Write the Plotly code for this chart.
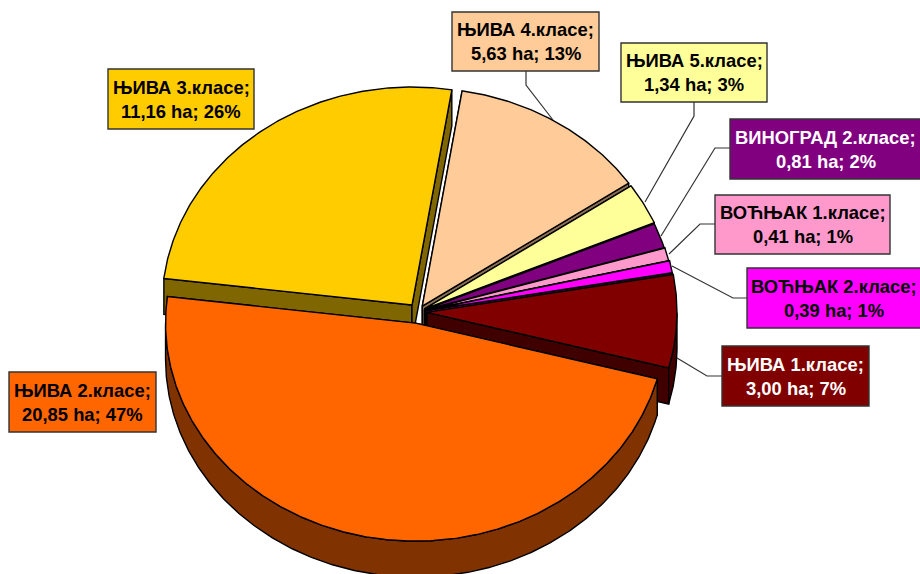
import math
import plotly.graph_objects as go

# ---- data (clockwise order, starting with ЊИВА 3) ----
categories = ["ЊИВА 3.класе", "ЊИВА 4.класе", "ЊИВА 5.класе", "ВИНОГРАД 2.класе",
              "ВОЋЊАК 1.класе", "ВОЋЊАК 2.класе", "ЊИВА 1.класе", "ЊИВА 2.класе"]
hectares = [11.16, 5.63, 1.34, 0.81, 0.41, 0.39, 3.00, 20.85]
percents = [26, 13, 3, 2, 1, 1, 7, 47]
colors = ["#FFCC00", "#FFCC99", "#FFFF99", "#800080", "#FF99CC", "#FF00FF", "#800000", "#FF6600"]
walls = ["#806600", "#8A6E55", "#80804D", "#400040", "#804D66", "#800080", "#400000", "#803300"]
text_colors = ["#000000", "#000000", "#000000", "#FFFFFF", "#000000", "#000000", "#FFFFFF", "#000000"]
pulls = [0.04, 0.032, 0.03, 0.028, 0.03, 0.033, 0.036, 0.052]

# ---- geometry / style ----
CX, CY, RX, RY, DEPTH = 418, 312, 250, 218, 36
START_DEG = 187.0  # screen-clockwise from east, where ЊИВА 3 begins
boxes = [(108, 69, 254, 129), (452, 12, 599, 71), (621, 43, 767, 102), (730, 119, 921, 179),
         (715, 195, 890, 254), (747, 268, 921, 328), (722, 346, 869, 406), (9, 372, 156, 432)]
leaders = [None,
           [(526, 71), (526, 85), (553, 120)],
           [(694, 102), (694, 116), (645, 202)],
           [(730, 148), (715, 148), (661, 236)],
           [(715, 224), (700, 224), (669, 254)],
           [(747, 298), (733, 298), (672, 266)],
           [(722, 376), (707, 376), (677, 358)],
           None]

fig = go.Figure()


def poly(xs, ys, fill):
    fig.add_trace(go.Scatter(x=xs + xs[:1], y=ys + ys[:1], mode="lines", fill="toself",
                             fillcolor=fill, line=dict(color="#000000", width=1.4),
                             hoverinfo="skip", showlegend=False))


total = sum(hectares)
angle = START_DEG
for name, val, col, wall, pull in zip(categories, hectares, colors, walls, pulls):
    sweep = val / total * 360
    a0, a1 = angle, angle + sweep
    angle = a1
    mid = math.radians((a0 + a1) / 2)
    ax = CX + pull * RX * math.cos(mid)
    ay = CY + pull * RY * math.sin(mid)
    n = max(4, int(sweep * 2))
    thetas = [math.radians(a0 + (a1 - a0) * i / n) for i in range(n + 1)]
    ex = [ax + RX * math.cos(t) for t in thetas]
    ey = [ay + RY * math.sin(t) for t in thetas]
    # radial walls
    for k in (0, -1):
        poly([ax, ex[k], ex[k], ax], [ay, ey[k], ey[k] + DEPTH, ay + DEPTH], wall)
    # outer wall: only the part of the rim that faces the viewer
    front = [i for i, t in enumerate(thetas) if math.sin(t) >= 0]
    if len(front) > 1:
        fx = [ex[i] for i in front]
        fy = [ey[i] for i in front]
        poly(fx + fx[::-1], fy + [y + DEPTH for y in fy[::-1]], wall)
    # top face
    poly([ax] + ex, [ay] + ey, col)

shapes = []
annotations = []
for name, val, pct, col, tc, box, lead in zip(categories, hectares, percents, colors,
                                              text_colors, boxes, leaders):
    x0, y0, x1, y1 = box
    shapes.append(dict(type="rect", x0=x0, y0=y0, x1=x1, y1=y1, xref="x", yref="y",
                       fillcolor=col, line=dict(color="#333333", width=1.4)))
    if lead:
        fig.add_trace(go.Scatter(x=[p[0] for p in lead], y=[p[1] for p in lead], mode="lines",
                                 line=dict(color="#333333", width=1.2), hoverinfo="skip",
                                 showlegend=False))
    lines = [name + ";", f"{val:.2f}".replace(".", ",") + f" ha; {pct}%"]
    ym = (y0 + y1) / 2
    xm = (x0 + x1) / 2
    for txt, yy in zip(lines, (ym - 12, ym + 12)):
        annotations.append(dict(x=xm, y=yy, xref="x", yref="y", text="<b>" + txt + "</b>",
                                showarrow=False, xanchor="center", yanchor="middle",
                                font=dict(family="Liberation Sans", size=18.4, color=tc)))

fig.update_layout(
    width=920, height=574, margin=dict(l=0, r=0, t=0, b=0),
    paper_bgcolor="#FFFFFF", plot_bgcolor="#FFFFFF", showlegend=False,
    xaxis=dict(range=[0, 920], visible=False, fixedrange=True),
    yaxis=dict(range=[574, 0], visible=False, fixedrange=True),
    shapes=shapes, annotations=annotations,
)
fig.write_html("out.html", config=dict(displayModeBar=False),
               post_script="document.body.style.margin='0';document.body.style.overflow='hidden';")
